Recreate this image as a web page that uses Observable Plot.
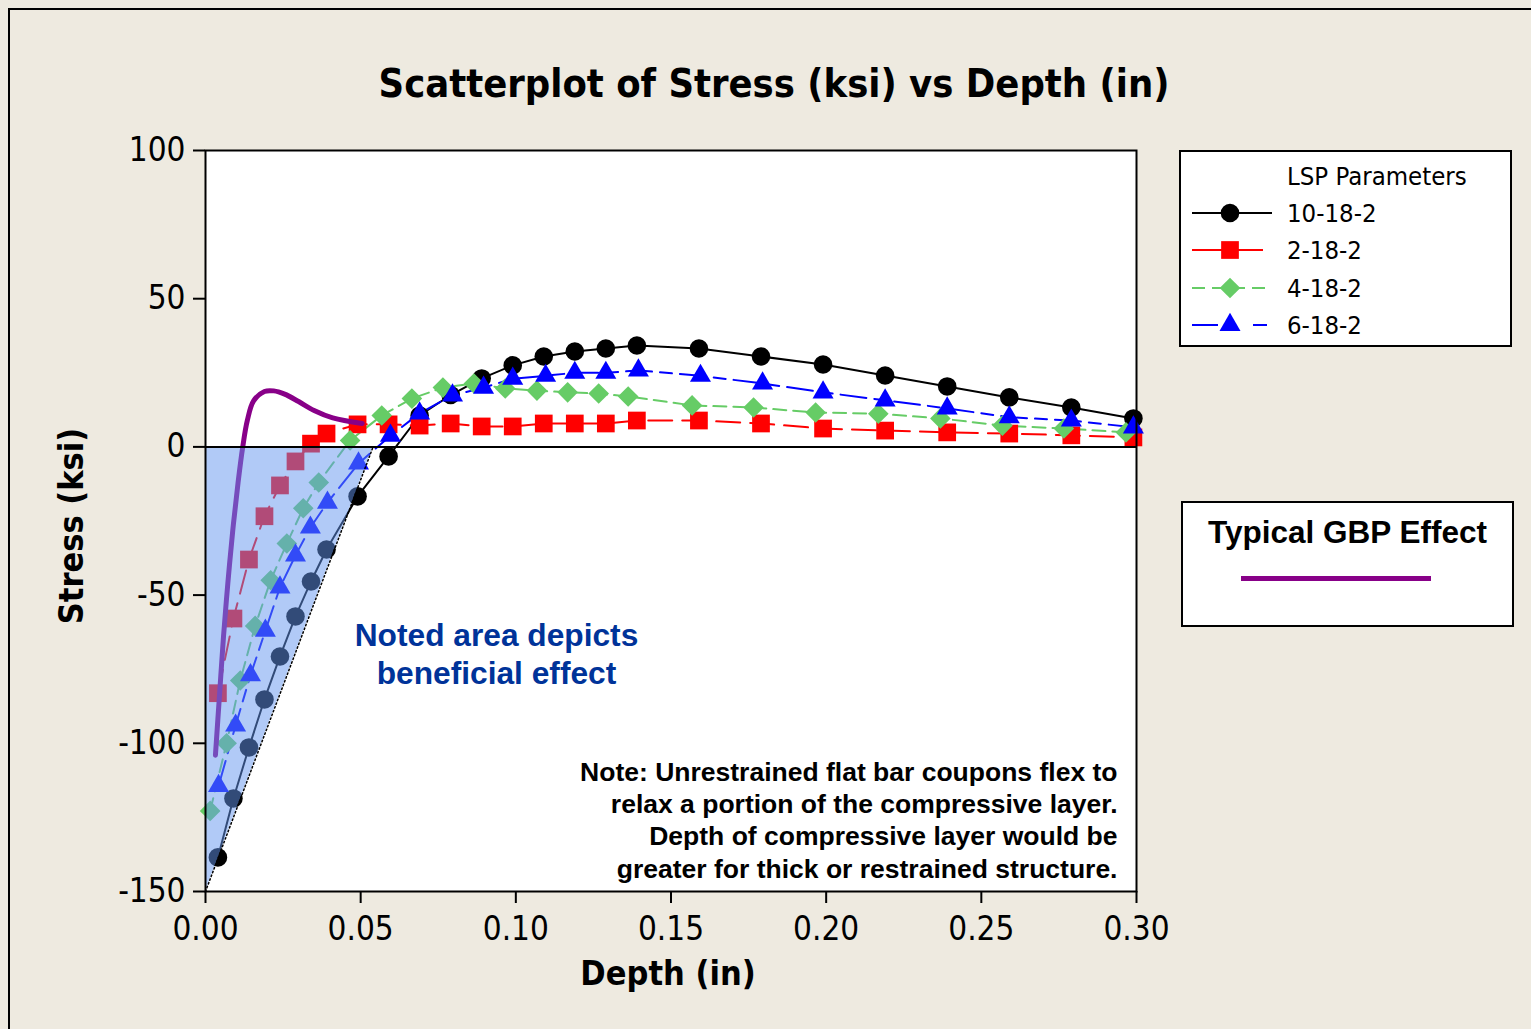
<!DOCTYPE html>
<html><head><meta charset="utf-8">
<script src="https://cdn.jsdelivr.net/npm/d3@7"></script>
<script src="https://cdn.jsdelivr.net/npm/@observablehq/plot@0.6"></script>
<style>
html,body{margin:0;padding:0;background:#EEEAE0;}
#page{position:relative;width:1531px;height:1029px;overflow:hidden;background:#EEEAE0;font-family:"DejaVu Sans Condensed","DejaVu Sans",sans-serif;}
#border{position:absolute;left:8px;top:8px;width:1700px;height:1200px;border-left:2px solid #000;border-top:2px solid #000;}
#title{position:absolute;left:0;top:58px;width:1548px;text-align:center;font-weight:bold;font-size:39.5px;line-height:50px;color:#000;}
#chart{position:absolute;left:0;top:0;}
#legend{position:absolute;left:1179px;top:150px;width:329px;height:193px;background:#fff;border:2px solid #000;}
#gbp{position:absolute;left:1181px;top:501px;width:329px;height:122px;background:#fff;border:2px solid #000;}
#gbpTitle{position:absolute;left:0;top:9px;width:100%;text-align:center;font-family:"Liberation Sans",Arial,sans-serif;font-weight:bold;font-size:31.5px;line-height:40px;}
#gbpLine{position:absolute;left:58px;top:73px;width:190px;height:5px;background:#880088;}
</style></head>
<body>
<div id="page">
  <div id="border"></div>
  <div id="title">Scatterplot of Stress (ksi) vs Depth (in)</div>
  <div id="chart"></div>
  <div id="legend"></div>
  <div id="gbp"><div id="gbpTitle">Typical GBP Effect</div><div id="gbpLine"></div></div>
</div>
<script>
// ---- data ----
const seriesNames = ["10-18-2", "2-18-2", "4-18-2", "6-18-2"];
const depthA = [0.004,0.009,0.014,0.019,0.024,0.029,0.034,0.039,0.049,0.059,0.069,0.079,0.089,0.099,0.109,0.119,0.129,0.139,0.159,0.179,0.199,0.219,0.239,0.259,0.279,0.299];
const stress10 = [-138.5,-118.6,-101.4,-85.2,-70.7,-57.2,-45.4,-34.6,-16.7,-3.2,10.6,17.5,23.1,27.5,30.5,32.2,33.2,34.2,33.2,30.5,27.8,24.1,20.4,16.7,13.3,9.6];
const stress2 = [-83.1,-57.9,-38,-23.4,-13,-4.9,1.1,4.5,7.6,7.6,7.2,7.9,6.9,6.9,7.9,7.9,7.9,8.9,8.9,7.9,6.2,5.5,4.9,4.5,3.9,3.2];
const depth4 = [0.0015,0.0068,0.0112,0.016,0.021,0.0262,0.0315,0.0365,0.0466,0.0568,0.0665,0.0765,0.0865,0.0966,0.1068,0.1167,0.1267,0.1362,0.1568,0.1766,0.1966,0.2168,0.2368,0.2568,0.2766,0.2966];
const stress4 = [-122.8,-100,-78.8,-60.4,-45,-32.6,-20.7,-12,2.2,10.6,16.3,20,21.4,19.7,19,18.4,18,17,14,13.3,11.6,11.2,9.6,7.2,6.2,4.9];
const depth6 = [0.0042,0.0097,0.0145,0.0193,0.024,0.029,0.0338,0.0393,0.0493,0.0596,0.069,0.0796,0.0896,0.099,0.1096,0.119,0.129,0.1395,0.1595,0.1795,0.199,0.219,0.239,0.259,0.279,0.299];
const stress6 = [-114.4,-94,-77,-62,-47.4,-36.6,-27.2,-18.8,-5.6,3.8,11.3,17.4,20,23,24,25,25,25.8,24,21.4,18.4,15.7,13,10,8.9,6.6];
const gbpDepth = [0.0032,0.0045,0.0058,0.0072,0.0088,0.0105,0.012,0.0135,0.0155,0.019,0.022,0.0255,0.03,0.035,0.041,0.0505];
const gbpStress = [-104,-84,-64,-46,-28,-12,0,9,15.5,18.7,18.9,17.8,15.3,12.3,9.8,7.9];
const shadeDepth = [0, 0.054];
const shadeStress = [-150, 0];
const xTicks = [0, 0.05, 0.10, 0.15, 0.20, 0.25, 0.30];
const yTicks = [-150, -100, -50, 0, 50, 100];
const noteLines = ["Note: Unrestrained flat bar coupons flex to", "relax a portion of the compressive layer.", "Depth of compressive layer would be", "greater for thick or restrained structure."];
const areaLines = ["Noted area depicts", "beneficial effect"];

// ---- styling ----
const FONT = '"DejaVu Sans Condensed","DejaVu Sans",sans-serif';
const BOLD = '"Liberation Sans",Arial,sans-serif';
const series = [
  {name: seriesNames[0], x: depthA, y: stress10, color: "#000000", symbol: "circle", r: 9.3, dash: null},
  {name: seriesNames[1], x: depthA, y: stress2, color: "#FF0000", symbol: "square", r: 10, dash: "24,10"},
  {name: seriesNames[2], x: depth4, y: stress4, color: "#66CC66", symbol: "diamond2", r: 9.3, dash: "13,7"},
  {name: seriesNames[3], x: depth6, y: stress6, color: "#0000FF", symbol: "triangle", r: 7.8, dash: "26,8,12,8"}
];
const rows = s => s.x.map((d, i) => ({depth: d, stress: s.y[i]}));
const gbp = gbpDepth.map((d, i) => ({depth: d, stress: gbpStress[i]}));
const shade = shadeDepth.map((d, i) => ({depth: d, stress: shadeStress[i]}));

const chart = Plot.plot({
  width: 1531, height: 1029,
  marginLeft: 205, marginRight: 395, marginTop: 150, marginBottom: 138,
  style: {background: "transparent", fontFamily: FONT, color: "#000", overflow: "visible"},
  x: {domain: [0, 0.30]},
  y: {domain: [-150, 100]},
  marks: [
    Plot.frame({fill: "white", stroke: "none"}),
    ...series.map(s => Plot.line(rows(s), {x: "depth", y: "stress", stroke: s.color, strokeWidth: 2, strokeDasharray: s.dash})),
    ...series.map(s => Plot.dot(rows(s), {x: "depth", y: "stress", symbol: s.symbol, r: s.r, fill: s.color, stroke: "none"})),
    Plot.line(gbp, {x: "depth", y: "stress", curve: "catmull-rom", stroke: "#880088", strokeWidth: 5}),
    Plot.areaY(shade, {x: "depth", y1: "stress", y2: 0, fill: "#6496F0", fillOpacity: 0.5}),
    Plot.line(shade, {x: "depth", y: "stress", stroke: "#000", strokeWidth: 1.5, strokeDasharray: "1.5,2.5"}),
    Plot.ruleY([0], {stroke: "#000", strokeWidth: 2}),
    Plot.frame({stroke: "#000", strokeWidth: 2}),
    Plot.axisX({ticks: xTicks, tickFormat: ".2f", tickSize: 12, tickPadding: 13, fontSize: 33, strokeWidth: 2, label: null}),
    Plot.axisY({ticks: yTicks, tickFormat: d => String(d), tickSize: 12, tickPadding: 8, fontSize: 33, strokeWidth: 2, label: null}),
    Plot.text(["Depth (in)"], {frameAnchor: "bottom", dx: -3, dy: 93, fontSize: 34, fontWeight: "bold", fontFamily: FONT}),
    Plot.text(["Stress (ksi)"], {frameAnchor: "left", textAnchor: "middle", rotate: -90, dx: -133, dy: 5, fontSize: 34, fontWeight: "bold", fontFamily: FONT}),
    Plot.text([areaLines.join("\n")], {frameAnchor: "left", textAnchor: "middle", dx: 291, dy: 132, fontSize: 31.7, fontWeight: "bold", fontFamily: BOLD, fill: "#003399", lineHeight: 1.2}),
    Plot.text([noteLines.join("\n")], {frameAnchor: "bottom-right", textAnchor: "end", lineAnchor: "bottom", dx: -19, dy: -14, fontSize: 26.5, fontWeight: "bold", fontFamily: BOLD, fill: "#000", lineHeight: 1.21})
  ]
});
document.getElementById("chart").appendChild(chart);

// ---- legend box ----
const lg = d3.select("#legend").append("svg").attr("width", 329).attr("height", 193).style("font-family", FONT);
lg.append("text").attr("x", 106).attr("y", 33).attr("font-size", 25.5).text("LSP Parameters");
const rowY = [61, 98, 136, 173];
series.forEach((s, i) => {
  const g = lg.append("g").attr("transform", `translate(0,${rowY[i]})`);
  if (i === 3) {
    g.append("line").attr("x1", 11).attr("x2", 37).attr("stroke", s.color).attr("stroke-width", 2);
    g.append("line").attr("x1", 72).attr("x2", 86).attr("stroke", s.color).attr("stroke-width", 2);
  } else if (i === 2) {
    g.append("line").attr("x1", 11).attr("x2", 91).attr("stroke", s.color).attr("stroke-width", 2).attr("stroke-dasharray", s.dash);
  } else {
    g.append("line").attr("x1", 11).attr("x2", i === 1 ? 82 : 91).attr("stroke", s.color).attr("stroke-width", 2);
  }
  const sym = {circle: d3.symbolCircle, square: d3.symbolSquare, diamond2: d3.symbolDiamond2, triangle: d3.symbolTriangle}[s.symbol];
  g.append("path").attr("transform", "translate(49,0)").attr("d", d3.symbol(sym, s.r * s.r * Math.PI)()).attr("fill", s.color);
  g.append("text").attr("x", 106).attr("y", 0).attr("dy", "0.36em").attr("font-size", 25.5).text(s.name);
});
</script>
</body></html>
